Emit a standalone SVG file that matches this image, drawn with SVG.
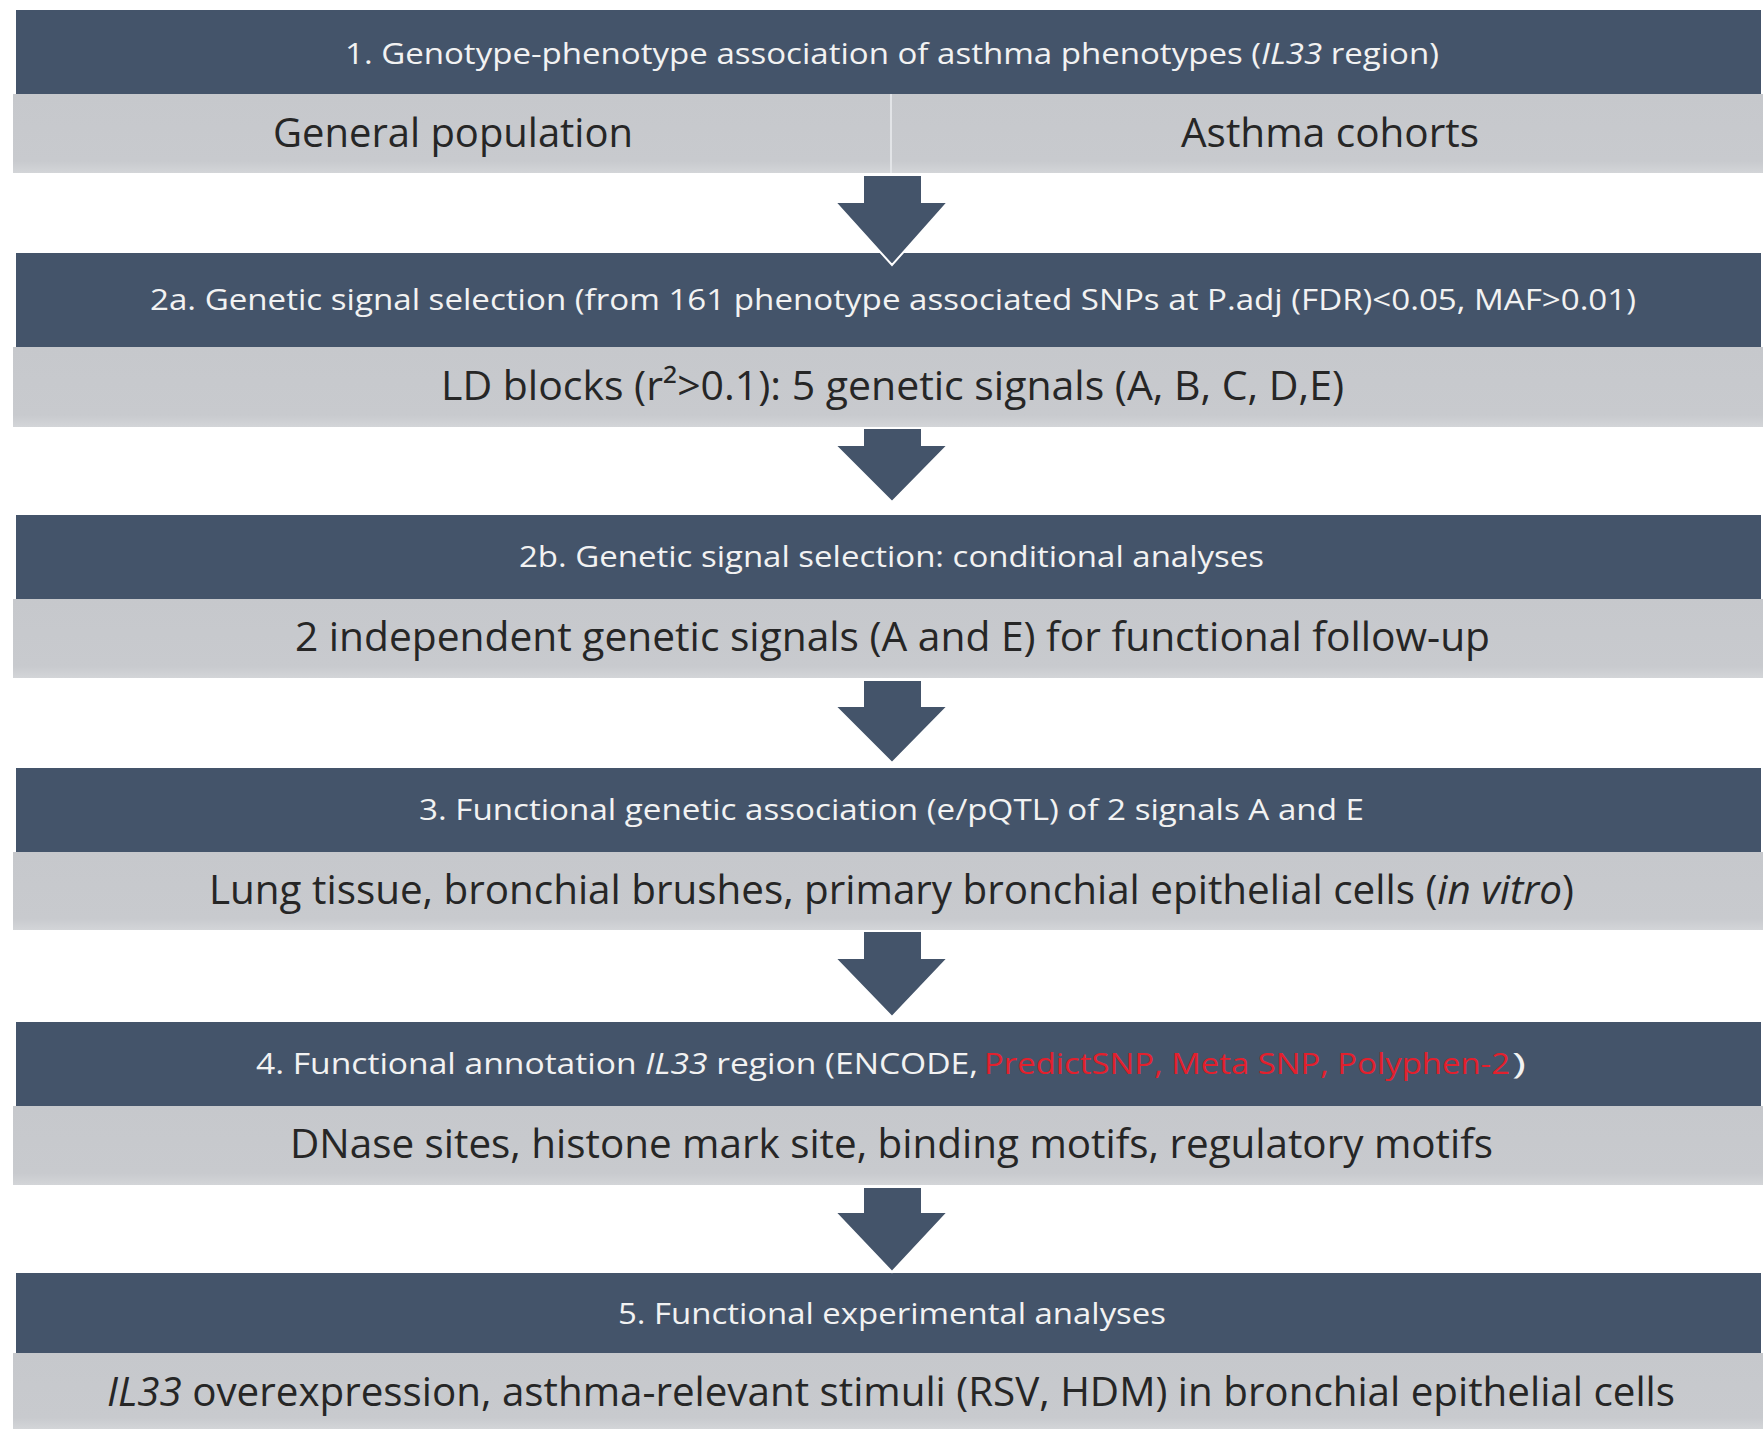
<svg xmlns="http://www.w3.org/2000/svg" width="1763" height="1429" viewBox="0 0 1763 1429">
<style>
.dark{fill:#44546a}
.light{fill:#c7c9cd}
.hd{font-family:"Open Sans","Noto Sans","Liberation Sans",sans-serif;font-size:30px;fill:#f2f2f2}
.lt{font-family:"Open Sans","Noto Sans","Liberation Sans",sans-serif;font-size:40px;fill:#262626}
.red{fill:#e3202d}
.arrow{fill:#44546a;stroke:#ffffff;stroke-width:2;stroke-linejoin:miter}
.it{font-style:italic}
</style>
<defs>
<linearGradient id="lg" x1="0" y1="0" x2="0" y2="1">
<stop offset="0" stop-color="#c6c8cc"/>
<stop offset="0.85" stop-color="#c8cace"/>
<stop offset="1" stop-color="#d3d5d8"/>
</linearGradient>
</defs>
<rect x="0" y="0" width="1763" height="1429" fill="#ffffff"/>

<g id="node1">
<rect class="dark" x="16" y="10" width="1745" height="84"/>
<rect class="light" x="13" y="94" width="1750" height="79" fill="url(#lg)" style="fill:url(#lg)"/>
<line x1="891" y1="94" x2="891" y2="173" stroke="#e2e4e7" stroke-width="2"/>
<text class="hd" x="345" y="64" textLength="1094" lengthAdjust="spacingAndGlyphs">1. Genotype-phenotype association of asthma phenotypes (<tspan class="it">IL33</tspan> region)</text>
<text class="lt" x="273" y="147" textLength="360" lengthAdjust="spacingAndGlyphs">General population</text>
<text class="lt" x="1181" y="147" textLength="298" lengthAdjust="spacingAndGlyphs">Asthma cohorts</text>
</g>

<g id="node2a">
<rect class="dark" x="16" y="253" width="1745" height="94"/>
<rect x="13" y="347" width="1750" height="80" style="fill:url(#lg)"/>
<text class="hd" x="150" y="310" textLength="1486" lengthAdjust="spacingAndGlyphs">2a. Genetic signal selection (from 161 phenotype associated SNPs at P.adj (FDR)&lt;0.05, MAF&gt;0.01)</text>
<text class="lt" x="441" y="400" textLength="903" lengthAdjust="spacingAndGlyphs">LD blocks (r²&gt;0.1): 5 genetic signals (A, B, C, D,E)</text>
</g>

<g id="node2b">
<rect class="dark" x="16" y="515" width="1745" height="84"/>
<rect x="13" y="599" width="1750" height="79" style="fill:url(#lg)"/>
<text class="hd" x="519" y="567" textLength="745" lengthAdjust="spacingAndGlyphs">2b. Genetic signal selection: conditional analyses</text>
<text class="lt" x="295" y="651" textLength="1195" lengthAdjust="spacingAndGlyphs">2 independent genetic signals (A and E) for functional follow-up</text>
</g>

<g id="node3">
<rect class="dark" x="16" y="768" width="1745" height="84"/>
<rect x="13" y="852" width="1750" height="78" style="fill:url(#lg)"/>
<text class="hd" x="419" y="820" textLength="945" lengthAdjust="spacingAndGlyphs">3. Functional genetic association (e/pQTL) of 2 signals A and E</text>
<text class="lt" x="209" y="904" textLength="1365" lengthAdjust="spacingAndGlyphs">Lung tissue, bronchial brushes, primary bronchial epithelial cells (<tspan class="it">in vitro</tspan>)</text>
</g>

<g id="node4">
<rect class="dark" x="16" y="1022" width="1745" height="84"/>
<rect x="13" y="1106" width="1750" height="79" style="fill:url(#lg)"/>
<text class="hd" x="256" y="1074" textLength="722" lengthAdjust="spacingAndGlyphs">4. Functional annotation <tspan class="it">IL33</tspan> region  (ENCODE,</text>
<text class="hd red" x="984" y="1074" textLength="526" lengthAdjust="spacingAndGlyphs">PredictSNP, Meta SNP, Polyphen-2</text>
<text class="hd" x="1512" y="1074" textLength="14" lengthAdjust="spacingAndGlyphs">)</text>
<text class="lt" x="290" y="1158" textLength="1203" lengthAdjust="spacingAndGlyphs">DNase sites, histone mark site, binding motifs, regulatory motifs</text>
</g>

<g id="node5">
<rect class="dark" x="16" y="1273" width="1745" height="80"/>
<rect x="13" y="1353" width="1750" height="76" style="fill:url(#lg)"/>
<text class="hd" x="618" y="1324" textLength="548" lengthAdjust="spacingAndGlyphs">5. Functional experimental analyses</text>
<text class="lt" x="107" y="1406" textLength="1568" lengthAdjust="spacingAndGlyphs"><tspan class="it">IL33</tspan> overexpression, asthma-relevant stimuli (RSV, HDM) in bronchial epithelial cells</text>
</g>

<g id="connectors">
<polygon class="arrow" points="863,175 922,175 922,202 948,202 892,265 835,202 863,202"/>
<polygon class="arrow" points="863,428 922,428 922,445 948,445 892,502 835,445 863,445"/>
<polygon class="arrow" points="863,680 922,680 922,706 948,706 892,763 835,706 863,706"/>
<polygon class="arrow" points="863,931 922,931 922,958 948,958 892,1017 835,958 863,958"/>
<polygon class="arrow" points="863,1187 922,1187 922,1212 948,1212 892,1272 835,1212 863,1212"/>
</g>
</svg>
